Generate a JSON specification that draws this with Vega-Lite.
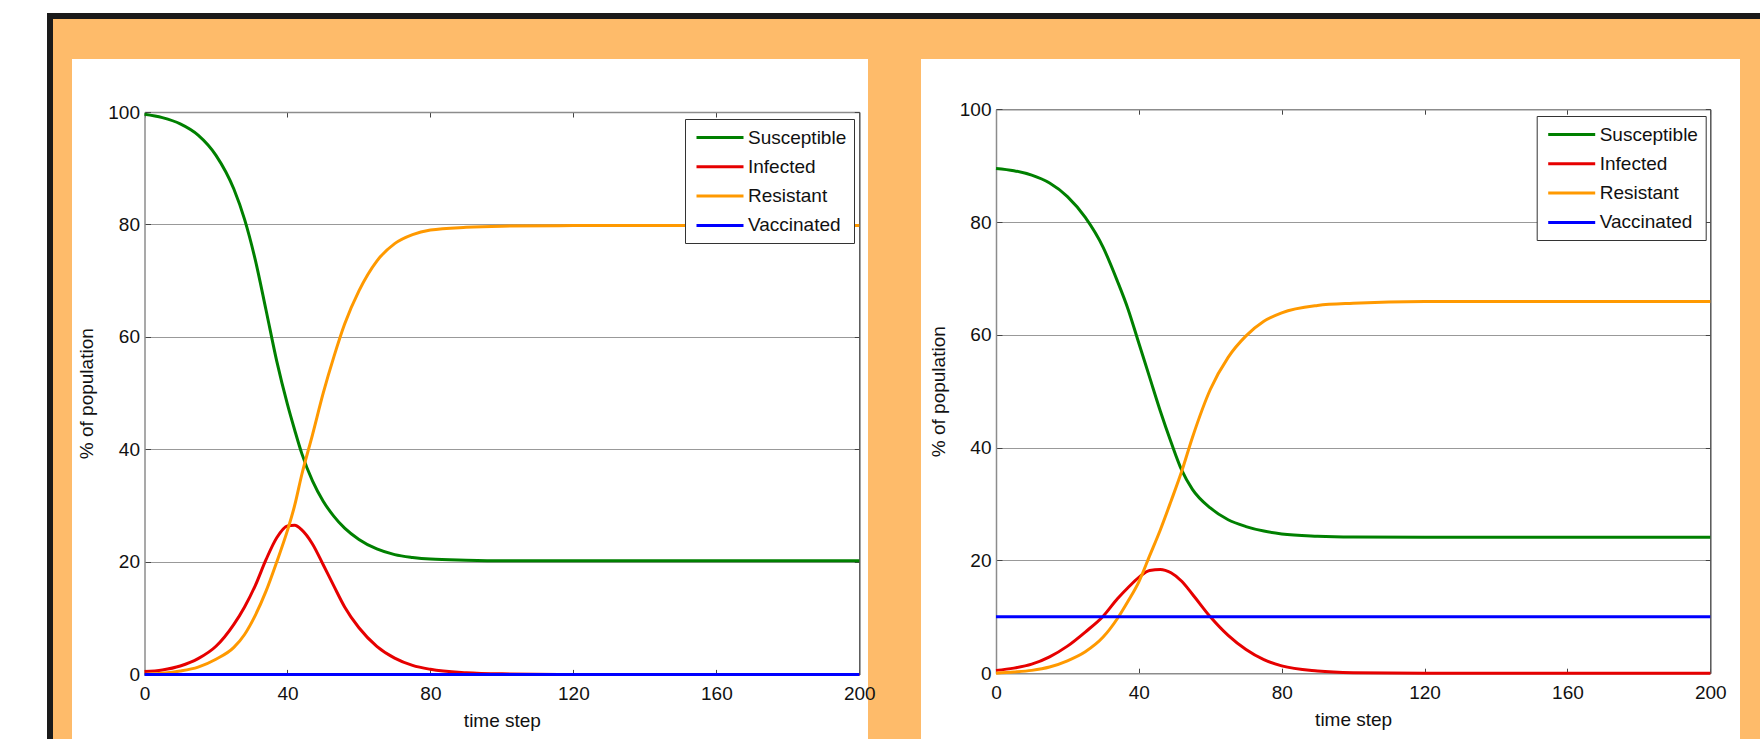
{
  "$schema": "https://vega.github.io/schema/vega-lite/v6.json",
  "background": "#febb6a",
  "padding": 0,
  "bounds": "flush",
  "spacing": 0,
  "datasets": {
    "none": [],
    "left": [
      {"t": 0, "Susceptible": 99.6, "Infected": 0.5, "Resistant": 0.0, "Vaccinated": 0},
      {"t": 5, "Susceptible": 99.0, "Infected": 0.8, "Resistant": 0.2, "Vaccinated": 0},
      {"t": 10, "Susceptible": 97.9, "Infected": 1.5, "Resistant": 0.6, "Vaccinated": 0},
      {"t": 15, "Susceptible": 95.9, "Infected": 2.8, "Resistant": 1.3, "Vaccinated": 0},
      {"t": 20, "Susceptible": 92.3, "Infected": 5.0, "Resistant": 2.7, "Vaccinated": 0},
      {"t": 25, "Susceptible": 86.3, "Infected": 8.9, "Resistant": 4.8, "Vaccinated": 0},
      {"t": 28, "Susceptible": 80.9, "Infected": 12.0, "Resistant": 7.1, "Vaccinated": 0},
      {"t": 31, "Susceptible": 73.7, "Infected": 15.8, "Resistant": 10.5, "Vaccinated": 0},
      {"t": 34, "Susceptible": 64.8, "Infected": 20.4, "Resistant": 14.8, "Vaccinated": 0},
      {"t": 37, "Susceptible": 55.7, "Infected": 24.3, "Resistant": 20.0, "Vaccinated": 0},
      {"t": 40, "Susceptible": 48.0, "Infected": 26.4, "Resistant": 25.6, "Vaccinated": 0},
      {"t": 42, "Susceptible": 43.5, "Infected": 26.5, "Resistant": 30.0, "Vaccinated": 0},
      {"t": 44, "Susceptible": 39.3, "Infected": 25.7, "Resistant": 35.5, "Vaccinated": 0},
      {"t": 47, "Susceptible": 34.4, "Infected": 23.2, "Resistant": 42.6, "Vaccinated": 0},
      {"t": 50, "Susceptible": 30.8, "Infected": 19.5, "Resistant": 50.0, "Vaccinated": 0},
      {"t": 53, "Susceptible": 28.1, "Infected": 15.7, "Resistant": 56.5, "Vaccinated": 0},
      {"t": 56, "Susceptible": 26.0, "Infected": 12.0, "Resistant": 62.3, "Vaccinated": 0},
      {"t": 60, "Susceptible": 24.0, "Infected": 8.3, "Resistant": 68.2, "Vaccinated": 0},
      {"t": 65, "Susceptible": 22.3, "Infected": 5.0, "Resistant": 73.5, "Vaccinated": 0},
      {"t": 70, "Susceptible": 21.3, "Infected": 2.9, "Resistant": 76.6, "Vaccinated": 0},
      {"t": 75, "Susceptible": 20.8, "Infected": 1.6, "Resistant": 78.2, "Vaccinated": 0},
      {"t": 80, "Susceptible": 20.5, "Infected": 0.9, "Resistant": 79.0, "Vaccinated": 0},
      {"t": 90, "Susceptible": 20.3, "Infected": 0.3, "Resistant": 79.5, "Vaccinated": 0},
      {"t": 100, "Susceptible": 20.2, "Infected": 0.1, "Resistant": 79.7, "Vaccinated": 0},
      {"t": 120, "Susceptible": 20.2, "Infected": 0.0, "Resistant": 79.8, "Vaccinated": 0},
      {"t": 160, "Susceptible": 20.2, "Infected": 0.0, "Resistant": 79.8, "Vaccinated": 0},
      {"t": 200, "Susceptible": 20.2, "Infected": 0.0, "Resistant": 79.8, "Vaccinated": 0}
    ],
    "right": [
      {"t": 0, "Susceptible": 89.5, "Infected": 0.5, "Resistant": 0.0, "Vaccinated": 10},
      {"t": 5, "Susceptible": 89.1, "Infected": 0.9, "Resistant": 0.2, "Vaccinated": 10},
      {"t": 10, "Susceptible": 88.3, "Infected": 1.6, "Resistant": 0.5, "Vaccinated": 10},
      {"t": 15, "Susceptible": 86.9, "Infected": 2.9, "Resistant": 1.1, "Vaccinated": 10},
      {"t": 20, "Susceptible": 84.5, "Infected": 4.8, "Resistant": 2.2, "Vaccinated": 10},
      {"t": 25, "Susceptible": 80.8, "Infected": 7.3, "Resistant": 3.8, "Vaccinated": 10},
      {"t": 30, "Susceptible": 75.5, "Infected": 10.1, "Resistant": 6.4, "Vaccinated": 10},
      {"t": 34, "Susceptible": 69.5, "Infected": 13.2, "Resistant": 9.7, "Vaccinated": 10},
      {"t": 37, "Susceptible": 64.5, "Infected": 15.2, "Resistant": 12.8, "Vaccinated": 10},
      {"t": 40, "Susceptible": 58.5, "Infected": 17.0, "Resistant": 16.2, "Vaccinated": 10},
      {"t": 43, "Susceptible": 52.5, "Infected": 18.2, "Resistant": 20.8, "Vaccinated": 10},
      {"t": 46, "Susceptible": 46.5, "Infected": 18.4, "Resistant": 25.4, "Vaccinated": 10},
      {"t": 49, "Susceptible": 41.0, "Infected": 17.8, "Resistant": 30.5, "Vaccinated": 10},
      {"t": 52, "Susceptible": 36.0, "Infected": 16.3, "Resistant": 35.8, "Vaccinated": 10},
      {"t": 55, "Susceptible": 32.6, "Infected": 14.0, "Resistant": 41.8, "Vaccinated": 10},
      {"t": 60, "Susceptible": 29.3, "Infected": 10.0, "Resistant": 50.3, "Vaccinated": 10},
      {"t": 65, "Susceptible": 27.2, "Infected": 6.7, "Resistant": 56.0, "Vaccinated": 10},
      {"t": 70, "Susceptible": 26.0, "Infected": 4.2, "Resistant": 59.8, "Vaccinated": 10},
      {"t": 75, "Susceptible": 25.2, "Infected": 2.4, "Resistant": 62.4, "Vaccinated": 10},
      {"t": 80, "Susceptible": 24.7, "Infected": 1.3, "Resistant": 63.9, "Vaccinated": 10},
      {"t": 90, "Susceptible": 24.3, "Infected": 0.4, "Resistant": 65.2, "Vaccinated": 10},
      {"t": 100, "Susceptible": 24.15, "Infected": 0.1, "Resistant": 65.6, "Vaccinated": 10},
      {"t": 120, "Susceptible": 24.1, "Infected": 0.0, "Resistant": 65.9, "Vaccinated": 10},
      {"t": 160, "Susceptible": 24.1, "Infected": 0.0, "Resistant": 65.9, "Vaccinated": 10},
      {"t": 200, "Susceptible": 24.1, "Infected": 0.0, "Resistant": 65.9, "Vaccinated": 10}
    ]
  },
  "vconcat": [
    {"width": 1760, "height": 13, "data": {"name": "none"}, "mark": "point", "view": {"fill": "#ffffff", "stroke": null}},
    {
      "hconcat": [
        {"width": 47, "height": 726, "data": {"name": "none"}, "mark": "point", "view": {"fill": "#ffffff", "stroke": null}},
        {
          "vconcat": [
            {"width": 1713, "height": 6, "data": {"name": "none"}, "mark": "point", "view": {"fill": "#1a1a1a", "stroke": null}},
            {
              "hconcat": [
                {"width": 6, "height": 720, "data": {"name": "none"}, "mark": "point", "view": {"fill": "#1a1a1a", "stroke": null}},
                {
                  "vconcat": [
                    {"width": 10, "height": 1, "data": {"name": "none"}, "mark": "point", "view": {"stroke": null}},
                    {
                      "hconcat": [
                        {
                          "width": 796,
                          "height": 681,
                          "view": {"fill": "#ffffff", "stroke": null},
                          "data": {"name": "left"},
                          "transform": [{"fold": ["Susceptible", "Infected", "Resistant", "Vaccinated"], "as": ["series", "value"]}],
                          "layer": [
                            {
                              "mark": {"type": "line", "strokeWidth": 3, "interpolate": "monotone"},
                              "encoding": {
                                "x": {"field": "t", "type": "quantitative",
                                  "scale": {"domain": [0, 200], "range": [72.5, 787.3], "nice": false, "zero": false},
                                  "axis": {"orient": "bottom", "offset": -65.6, "values": [0, 40, 80, 120, 160, 200], "title": "time step", "tickSize": -5, "grid": false}},
                                "y": {"field": "value", "type": "quantitative",
                                  "scale": {"domain": [0, 100], "range": [615.4, 53], "nice": false, "zero": false},
                                  "axis": {"orient": "left", "offset": -72.5, "values": [0, 20, 40, 60, 80, 100], "title": "% of population", "tickSize": -6, "grid": true}},
                                "color": {"field": "series", "type": "nominal",
                                  "scale": {"domain": ["Susceptible", "Infected", "Resistant", "Vaccinated"], "range": ["#008000", "#e60000", "#ff9900", "#0000ff"]},
                                  "legend": {"orient": "none", "legendX": 613, "legendY": 60, "title": null}}
                              }
                            },
                            {
                              "data": {"name": "none"},
                              "mark": "rule",
                              "encoding": {
                                "x": {"field": "t", "type": "quantitative",
                                  "scale": {"domain": [0, 200], "range": [72.5, 787.3], "nice": false, "zero": false},
                                  "axis": {"orient": "top", "offset": -53, "values": [0, 40, 80, 120, 160, 200], "labels": false, "title": null, "tickSize": -5, "grid": false}},
                                "y": {"field": "value", "type": "quantitative",
                                  "scale": {"domain": [0, 100], "range": [615.4, 53], "nice": false, "zero": false},
                                  "axis": {"orient": "right", "offset": -8.7, "values": [0, 20, 40, 60, 80, 100], "labels": false, "title": null, "tickSize": -5, "grid": false, "domainColor": "#555555"}}
                              }
                            }
                          ],
                          "resolve": {"axis": {"x": "independent", "y": "independent"}}
                        },
                        {
                          "width": 819,
                          "height": 681,
                          "view": {"fill": "#ffffff", "stroke": null},
                          "data": {"name": "right"},
                          "transform": [{"fold": ["Susceptible", "Infected", "Resistant", "Vaccinated"], "as": ["series", "value"]}],
                          "layer": [
                            {
                              "mark": {"type": "line", "strokeWidth": 3, "interpolate": "monotone"},
                              "encoding": {
                                "x": {"field": "t", "type": "quantitative",
                                  "scale": {"domain": [0, 200], "range": [75, 789.3], "nice": false, "zero": false},
                                  "axis": {"orient": "bottom", "offset": -66.8, "values": [0, 40, 80, 120, 160, 200], "title": "time step", "tickSize": -5, "grid": false}},
                                "y": {"field": "value", "type": "quantitative",
                                  "scale": {"domain": [0, 100], "range": [614.2, 50.2], "nice": false, "zero": false},
                                  "axis": {"orient": "left", "offset": -75, "values": [0, 20, 40, 60, 80, 100], "title": "% of population", "tickSize": -6, "grid": true}},
                                "color": {"field": "series", "type": "nominal",
                                  "scale": {"domain": ["Susceptible", "Infected", "Resistant", "Vaccinated"], "range": ["#008000", "#e60000", "#ff9900", "#0000ff"]},
                                  "legend": {"orient": "none", "legendX": 615.7, "legendY": 57, "title": null}}
                              }
                            },
                            {
                              "data": {"name": "none"},
                              "mark": "rule",
                              "encoding": {
                                "x": {"field": "t", "type": "quantitative",
                                  "scale": {"domain": [0, 200], "range": [75, 789.3], "nice": false, "zero": false},
                                  "axis": {"orient": "top", "offset": -50.2, "values": [0, 40, 80, 120, 160, 200], "labels": false, "title": null, "tickSize": -5, "grid": false}},
                                "y": {"field": "value", "type": "quantitative",
                                  "scale": {"domain": [0, 100], "range": [614.2, 50.2], "nice": false, "zero": false},
                                  "axis": {"orient": "right", "offset": -29.7, "values": [0, 20, 40, 60, 80, 100], "labels": false, "title": null, "tickSize": -5, "grid": false, "domainColor": "#555555"}}
                              }
                            }
                          ],
                          "resolve": {"axis": {"x": "independent", "y": "independent"}}
                        }
                      ],
                      "spacing": 53,
                      "bounds": "flush",
                      "resolve": {"scale": {"color": "independent"}, "legend": {"color": "independent"}}
                    }
                  ],
                  "spacing": 39,
                  "bounds": "flush"
                }
              ],
              "spacing": 19,
              "bounds": "flush"
            }
          ],
          "spacing": 0,
          "bounds": "flush"
        }
      ],
      "spacing": 0,
      "bounds": "flush"
    }
  ],
  "config": {
    "view": {"stroke": null},
    "font": "Liberation Sans",
    "axis": {
      "labelFont": "Liberation Sans", "labelFontSize": 19, "labelColor": "#111111",
      "titleFont": "Liberation Sans", "titleFontSize": 19, "titleFontWeight": "normal", "titleColor": "#111111",
      "domainColor": "#8c8c8c", "domainWidth": 1.5, "tickColor": "#444444", "tickWidth": 1,
      "gridColor": "#999999", "gridWidth": 1, "labelFlush": false, "labelOverlap": false,
      "labelPadding": 11, "titlePadding": 11
    },
    "axisX": {"labelPadding": 15, "titlePadding": 8},
    "legend": {
      "labelFont": "Liberation Sans", "labelFontSize": 19, "labelColor": "#111111",
      "symbolType": "M-0.7,0H4", "symbolSize": 400, "symbolStrokeWidth": 3,
      "labelOffset": 33, "padding": 7, "rowPadding": 7.3,
      "strokeColor": "#333333", "fillColor": "#ffffff", "labelLimit": 300
    }
  }
}
